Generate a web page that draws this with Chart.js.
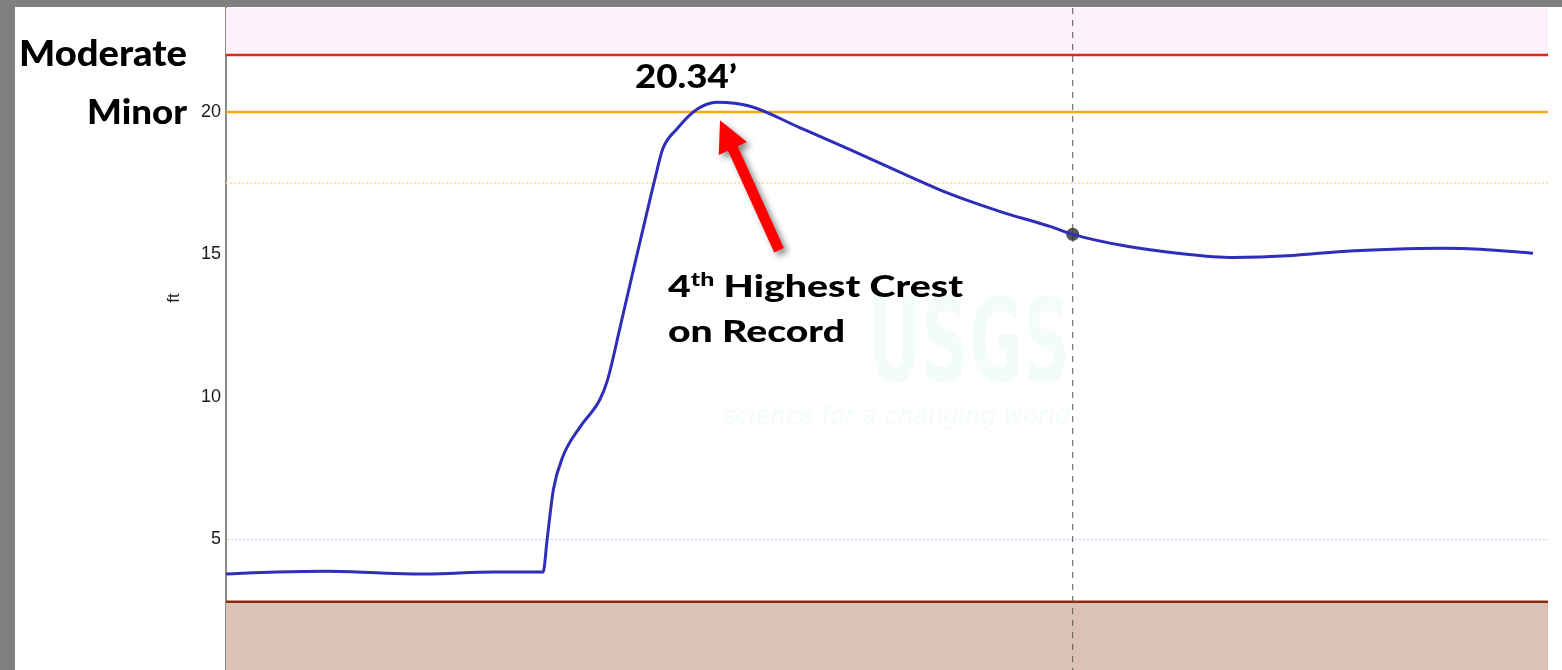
<!DOCTYPE html>
<html>
<head>
<meta charset="utf-8">
<script src="https://cdn.jsdelivr.net/npm/chart.js@4.4.0/dist/chart.umd.min.js"></script>
<style>
  html, body { margin: 0; padding: 0; }
  body { width: 1562px; height: 670px; background: #808080; position: relative; overflow: hidden; }
  #frame { position: absolute; left: 15px; top: 7px; width: 1547px; height: 663px; background: #fff; }
  #labels { position: absolute; left: 0; top: 0; pointer-events: none; }
  .big { font-family: Lato, "Open Sans", sans-serif; font-weight: 900; fill: #000; }
</style>
</head>
<body>
<div id="frame"><canvas id="stage-chart"></canvas></div>
<svg id="labels" width="1562" height="670">
  <text x="868" y="381" textLength="202" lengthAdjust="spacingAndGlyphs" font-family="DejaVu Sans" font-weight="700" font-size="116" fill="#f3fbfb">USGS</text>
  <text x="723" y="424" textLength="347" lengthAdjust="spacingAndGlyphs" font-family="DejaVu Sans" font-style="italic" font-size="25" fill="#f4fbfb">science for a changing world</text>
  <text class="big" x="19" y="66" font-size="36" textLength="168" lengthAdjust="spacingAndGlyphs">Moderate</text>
  <text class="big" x="87" y="124" font-size="35" textLength="100" lengthAdjust="spacingAndGlyphs">Minor</text>
  <text class="big" x="635" y="88" font-size="32" textLength="102" lengthAdjust="spacingAndGlyphs">20.34’</text>
  <text class="big" x="668" y="297" font-size="30" textLength="295" lengthAdjust="spacingAndGlyphs">4<tspan font-size="19" dy="-11">th</tspan><tspan dy="11"> Highest Crest</tspan></text>
  <text class="big" x="668" y="342" font-size="30" textLength="177" lengthAdjust="spacingAndGlyphs">on Record</text>
  <text x="175" y="298" transform="rotate(-90 175 298)" text-anchor="middle" dominant-baseline="middle" font-family="Liberation Sans" font-size="17" fill="#222">ft</text>
</svg>
<script>
// gage height, hours from start of the plot window
let hours = [0, 6.4, 12.7, 20.3, 25.4, 33.9, 40.3, 40.8, 41.6, 42.8, 45.0, 47.5, 48.5, 50.1, 51.7, 53.5, 54.5, 55.5, 57.3, 59.9, 62.4, 66.6, 72.9, 79.3, 85.7, 92.0, 98.4, 104.7, 107.6, 114.5, 120.9, 128.0, 135.6, 141.9, 148.3, 154.7, 159.4, 166.1]
let stageFt = [3.77, 3.84, 3.87, 3.80, 3.77, 3.84, 3.84, 4.96, 6.73, 7.89, 8.94, 9.89, 10.6, 12.46, 14.37, 16.48, 17.64, 18.7, 19.4, 20.1, 20.34, 20.2, 19.45, 18.68, 17.88, 17.12, 16.5, 15.98, 15.7, 15.28, 15.04, 14.89, 14.96, 15.1, 15.18, 15.21, 15.18, 15.04]
let yTicks = [5, 10, 15, 20]
let moderateStage = 22
let minorStage = 20
let actionStage = 17.5
let lowStage = 2.8
let nowHour = 107.6
let nowStage = 15.7

let bands = {
  id: 'bands',
  beforeDatasetsDraw(chart) {
    let ctx = chart.ctx, a = chart.chartArea, x = chart.scales.x, y = chart.scales.y;
    ctx.save();
    let yMod = y.getPixelForValue(moderateStage);
    ctx.fillStyle = '#fdf0fb';
    ctx.fillRect(a.left, a.top, a.width, yMod - a.top);
    let yLow = y.getPixelForValue(lowStage);
    ctx.fillStyle = '#dcc1b6';
    ctx.fillRect(a.left, yLow, a.width, a.bottom - yLow);

    function hline(v, color, w, dash) {
      let py = y.getPixelForValue(v);
      ctx.beginPath();
      ctx.setLineDash(dash);
      ctx.strokeStyle = color;
      ctx.lineWidth = w;
      ctx.moveTo(a.left, py);
      ctx.lineTo(a.right, py);
      ctx.stroke();
    }
    hline(actionStage, '#ffe27a', 1.5, [2, 2]);
    hline(minorStage, '#f5a81c', 2.5, []);
    hline(moderateStage, '#e8231c', 2.5, []);
    hline(lowStage, '#8b2e0a', 2.5, []);

    // current time marker
    let px = x.getPixelForValue(nowHour);
    ctx.beginPath();
    ctx.setLineDash([6, 6]);
    ctx.strokeStyle = '#555';
    ctx.lineWidth = 1;
    ctx.moveTo(px, a.top);
    ctx.lineTo(px, a.bottom);
    ctx.stroke();
    ctx.restore();
  },
  afterDatasetsDraw(chart) {
    // red arrow pointing at the crest
    let ctx = chart.ctx;
    let peak = stageFt.indexOf(Math.max(...stageFt));
    let pt = chart.getDatasetMeta(0).data[peak];
    let tx = pt.x + 3, ty = pt.y + 18;
    let dx = 59, dy = 130, len = Math.hypot(dx, dy);
    let ux = dx / len, uy = dy / len, nx = -uy, ny = ux;
    let head = 31, hw = 15.5, sw = 5.3;
    let bx = tx + ux * head, by = ty + uy * head;
    let ex = tx + dx, ey = ty + dy;
    ctx.save();
    ctx.shadowColor = 'rgba(0,0,0,0.45)';
    ctx.shadowBlur = 6;
    ctx.shadowOffsetX = 4;
    ctx.shadowOffsetY = 4;
    ctx.fillStyle = '#ff0000';
    ctx.beginPath();
    ctx.moveTo(tx, ty);
    ctx.lineTo(bx + nx * hw, by + ny * hw);
    ctx.lineTo(bx + nx * sw, by + ny * sw);
    ctx.lineTo(ex + nx * sw, ey + ny * sw);
    ctx.lineTo(ex - nx * sw, ey - ny * sw);
    ctx.lineTo(bx - nx * sw, by - ny * sw);
    ctx.lineTo(bx - nx * hw, by - ny * hw);
    ctx.closePath();
    ctx.fill();
    ctx.restore();
  }
}

new Chart(document.getElementById('stage-chart'), {
  type: 'line',
  data: {
    datasets: [
      {
        data: hours.map((h, i) => ({x: h, y: stageFt[i]})),
        borderColor: '#2e2eb8',
        borderWidth: 3,
        pointRadius: 0,
        cubicInterpolationMode: 'monotone',
        fill: false
      },
      {
        data: [{x: nowHour, y: nowStage}],
        showLine: false,
        pointRadius: 6.5,
        pointBorderWidth: 0,
        pointBackgroundColor: 'rgba(45,45,45,0.8)'
      }
    ]
  },
  options: {
    responsive: true,
    maintainAspectRatio: false,
    animation: false,
    layout: { autoPadding: false, padding: { left: 0, right: 14, top: 1, bottom: 0 } },
    plugins: { legend: { display: false }, tooltip: { enabled: false } },
    scales: {
      x: { type: 'linear', min: 0, max: 168, display: false },
      y: {
        type: 'linear',
        min: 0.4,
        max: 23.65,
        afterBuildTicks: s => { s.ticks = yTicks.map(v => ({value: v})) },
        afterFit: s => { s.width = 211; s.paddingTop = 0; s.paddingBottom = 0 },
        ticks: {
          padding: 5,
          color: '#1a1a1a',
          font: { family: 'Liberation Sans', size: 18 }
        },
        grid: {
          drawTicks: false,
          color: c => c.tick && c.tick.value === 5 ? '#c8c8ff' : 'rgba(0,0,0,0)'
        },
        border: { color: '#8c8c84', width: 2, dash: [2, 2] }
      }
    }
  },
  plugins: [bands]
});
</script>
</body>
</html>
